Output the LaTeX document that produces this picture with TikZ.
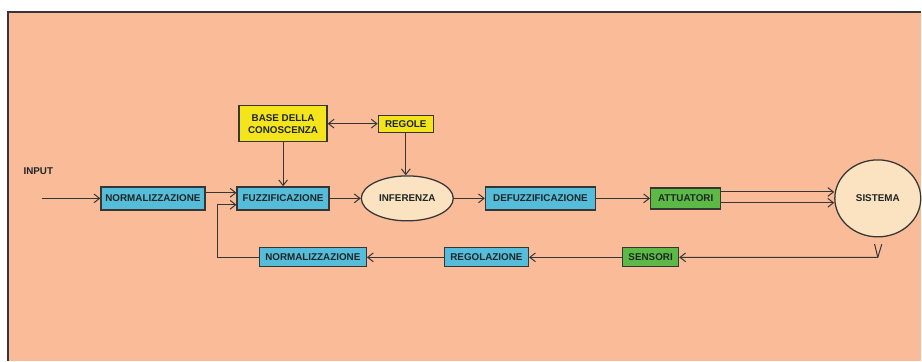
\documentclass[tikz,border=0pt]{standalone}
\usepackage{xcolor}
\usepackage{fontspec}
\setmainfont{Liberation Sans}
\usepackage{tikz}
\usetikzlibrary{positioning, arrows.meta, shapes.geometric}
\definecolor{BgPeach}{HTML}{F9BB98}
\definecolor{BoxBlue}{HTML}{55BCD9}
\definecolor{BoxYellow}{HTML}{F4E41C}
\definecolor{BoxGreen}{HTML}{5CB946}
\definecolor{CreamFill}{HTML}{FBE2C0}
\definecolor{LineGrey}{HTML}{363636}
\definecolor{InkDark}{HTML}{1E2626}

\begin{document}
\begin{tikzpicture}[
            node distance=0.775cm,
            font=\fontsize{7}{8.5}\selectfont\bfseries,
            box/.style={draw=LineGrey, line width=0.9pt, text=InkDark, inner xsep=2pt, inner ysep=1pt, minimum height=0.575cm, align=center},
            bluebox/.style={box, fill=BoxBlue},
            yellowbox/.style={box, fill=BoxYellow},
            greenbox/.style={box, fill=BoxGreen},
            cream/.style={box, ellipse, fill=CreamFill},
            arrow/.style={-{Straight Barb[length=1.4mm, width=2.2mm]}, LineGrey, line width=0.7pt},
            twoway/.style={{Straight Barb[length=1.4mm, width=2.2mm]}-{Straight Barb[length=1.4mm, width=2.2mm]}, LineGrey, line width=0.7pt}
        ]

            \fill[white] (0,0) rectangle (23.05,-9.025);
            \fill[BgPeach] (0.2,-0.3) rectangle (23.05,-9.025);
            \draw[LineGrey, line width=0.8pt] (0.2,-9.025) -- (0.2,-0.3) -- (23.05,-0.3);

            \node[bluebox, minimum width=2.6cm] (norm) at (3.825,-4.9625) {NORMALIZZAZIONE};
            \node[bluebox, minimum width=2.3cm, right=of norm] (fuzz) {FUZZIFICAZIONE};
            \node[cream, minimum width=2.3cm, minimum height=1.125cm, right=of fuzz] (infer) {INFERENZA};
            \node[bluebox, minimum width=2.75cm, right=of infer] (defuzz) {DEFUZZIFICAZIONE};
            \node[greenbox, minimum width=1.75cm, minimum height=0.525cm, right=1.35cm of defuzz] (attuat) {ATTUATORI};
            \node[cream, minimum width=2.15cm, minimum height=1.925cm, right=2.825cm of attuat] (sistema) {SISTEMA};

            \node[yellowbox, minimum width=2.2cm, minimum height=0.9cm, above=1.1cm of fuzz] (base) {BASE DELLA\\CONOSCENZA};
            \node[yellowbox, minimum width=1.375cm, minimum height=0.425cm, right=1.25cm of base] (regole) {REGOLE};

            \node[greenbox, minimum width=1.4cm, minimum height=0.475cm] (sensori) at (16.275,-6.4375) {SENSORI};
            \node[bluebox, minimum width=2.1cm, minimum height=0.475cm, left=2.325cm of sensori] (regolaz) {REGOLAZIONE};
            \node[bluebox, minimum width=2.675cm, minimum height=0.475cm, left=1.925cm of regolaz] (norm2) {NORMALIZZAZIONE};

            \coordinate[left=1.45cm of norm] (inp);
            \node[text=InkDark, above=0.48cm of inp, xshift=-0.1cm] (input) {INPUT};
            \coordinate (corner) at (sistema.south |- sensori);

            \draw[arrow] (inp) -- (norm);
            \draw[arrow] ([yshift=1.4mm]norm.east) -- ([yshift=1.4mm]fuzz.west);
            \draw[arrow] (fuzz) -- (infer);
            \draw[arrow] (infer) -- (defuzz);
            \draw[arrow] (defuzz) -- (attuat);
            \draw[arrow] ([yshift=1.6mm]attuat.east) -- ([yshift=1.6mm]attuat.east -| sistema.west);
            \draw[arrow] ([yshift=-1.1mm]attuat.east) -- ([yshift=-1.1mm]attuat.east -| sistema.west);

            \draw[twoway] (base) -- (regole);
            \draw[arrow] (base) -- (fuzz);
            \draw[arrow] (regole) -- (regole |- infer.north);

            \draw[arrow] ([shift={(0.1,0.33)}]corner) -- (corner) -- (sensori);
            \draw[LineGrey, line width=0.7pt] ([shift={(-0.08,0.33)}]corner) -- (corner);
            \draw[arrow] (sensori) -- (regolaz);
            \draw[arrow] (regolaz) -- (norm2);
            \draw[arrow] (norm2.west) -- ++(-1.025,0) |- ([yshift=-1.6mm]fuzz.west);

        \end{tikzpicture}
\end{document}
